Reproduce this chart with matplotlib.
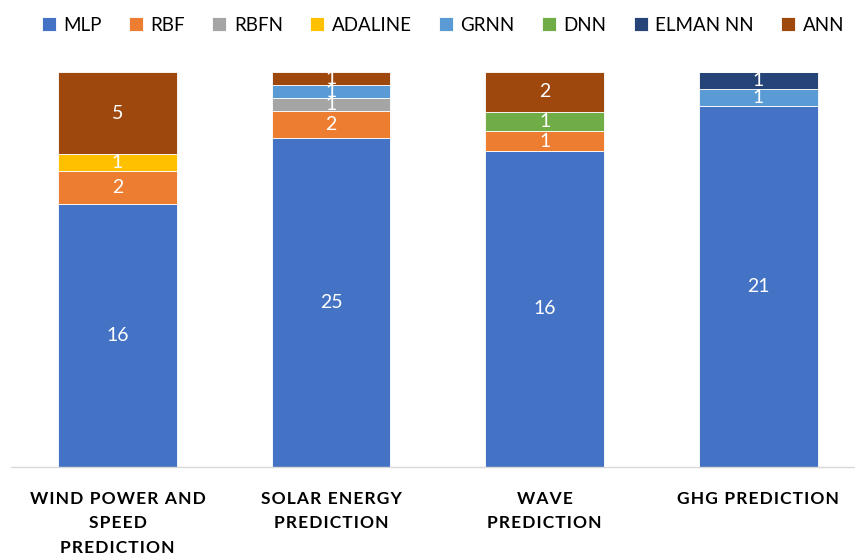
import matplotlib
matplotlib.use("Agg")
import matplotlib.pyplot as plt
import numpy as np

categories = ["WIND POWER AND\nSPEED\nPREDICTION", "SOLAR ENERGY\nPREDICTION",
              "WAVE\nPREDICTION", "GHG PREDICTION"]
series = ["MLP", "RBF", "RBFN", "ADALINE", "GRNN", "DNN", "ELMAN NN", "ANN"]
mlp = [16, 25, 16, 21]
rbf = [2, 2, 1, 0]
rbfn = [0, 1, 0, 0]
adaline = [1, 0, 0, 0]
grnn = [0, 1, 0, 1]
dnn = [0, 0, 1, 0]
elman = [0, 0, 0, 1]
ann = [5, 1, 2, 0]
colors = ["#4472C4", "#ED7D31", "#A5A5A5", "#FFC000", "#5B9BD5", "#70AD47", "#264478", "#9E480E"]

values = np.array([mlp, rbf, rbfn, adaline, grnn, dnn, elman, ann], dtype=float)
totals = values.sum(axis=0)
shares = values / totals * 100


def spaced(label, gap="\u200a"):
    # widen the tracking of each line of a category label
    return "\n".join(gap.join(line) for line in label.split("\n"))


plt.rcParams["font.family"] = ["Lato", "DejaVu Sans"]
fig = plt.figure(figsize=(8.55, 5.55), dpi=100)
ax = fig.add_axes([10.7 / 855, 88 / 555, 854.3 / 855, 395 / 555])

x = np.arange(len(categories))
bottom = np.zeros(len(categories))
handles = []
for name, col, sh, val in zip(series, colors, shares, values):
    bars = ax.bar(x, sh, width=0.556, bottom=bottom, color=col, edgecolor="white",
                  linewidth=0.6, label=name)
    handles.append(bars)
    for xi, b, s, v in zip(x, bottom, sh, val):
        if v > 0:
            ax.text(xi, b + s / 2, f"{int(v)}", ha="center", va="center",
                    color="white", fontsize=14)
    bottom += sh

ax.set_xlim(-0.5, len(categories) - 0.5)
ax.set_ylim(0, 100)
ax.set_yticks([])
ax.set_xticks(x)
ax.set_xticklabels([spaced(c) for c in categories], fontsize=12.5,
                   fontweight="bold", linespacing=1.65)
ax.tick_params(axis="x", length=0, pad=17)
for s in ["top", "right", "left"]:
    ax.spines[s].set_visible(False)
ax.spines["bottom"].set_color("#D9D9D9")
ax.spines["bottom"].set_linewidth(1.0)

fig.legend(handles=handles, labels=series, loc="upper center", ncol=8,
           bbox_to_anchor=(0.518, 1.0), frameon=False, fontsize=13.5,
           handlelength=0.75, handleheight=0.75, handletextpad=0.4,
           columnspacing=1.45)

fig.savefig("out.png", dpi=100)
